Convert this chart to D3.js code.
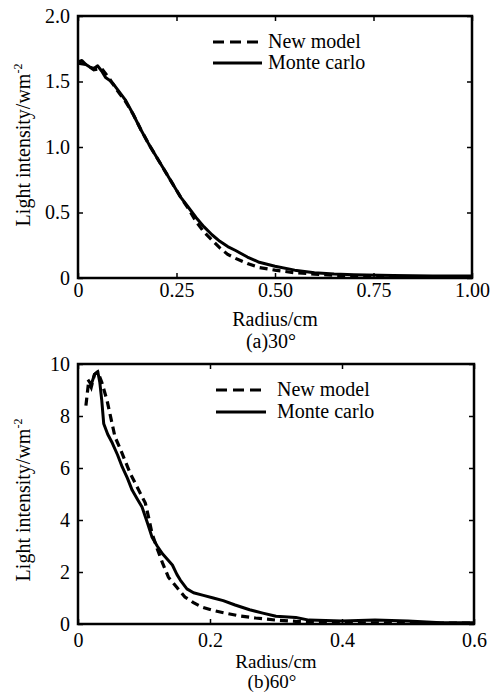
<!DOCTYPE html>
<html>
<head>
<meta charset="utf-8">
<script src="https://cdn.jsdelivr.net/npm/d3@7"></script>
<style>
  body { margin: 0; background: #fff; }
  svg text { fill: #000; }
</style>
</head>
<body>
<script>
// (a) 30 degrees
const mcRadiusA = [0, 0.01, 0.02, 0.03, 0.04, 0.05, 0.06, 0.07, 0.08, 0.09, 0.10, 0.12, 0.14, 0.16, 0.18, 0.20, 0.22, 0.24, 0.26, 0.28, 0.30, 0.32, 0.34, 0.36, 0.38, 0.40, 0.43, 0.46, 0.50, 0.55, 0.60, 0.65, 0.70, 0.80, 0.90, 1.00];
const mcIntensityA = [1.65, 1.66, 1.63, 1.61, 1.60, 1.62, 1.58, 1.53, 1.51, 1.48, 1.44, 1.36, 1.25, 1.13, 1.02, 0.92, 0.82, 0.72, 0.62, 0.54, 0.46, 0.39, 0.33, 0.28, 0.24, 0.21, 0.16, 0.12, 0.09, 0.06, 0.04, 0.03, 0.025, 0.02, 0.015, 0.015];
const nmRadiusA = [0, 0.02, 0.04, 0.06, 0.08, 0.10, 0.12, 0.14, 0.16, 0.18, 0.20, 0.22, 0.24, 0.26, 0.28, 0.30, 0.32, 0.34, 0.36, 0.38, 0.40, 0.43, 0.46, 0.50, 0.55, 0.60, 0.65, 0.70, 0.80, 0.90, 1.00];
const nmIntensityA = [1.64, 1.63, 1.59, 1.60, 1.52, 1.43, 1.35, 1.25, 1.13, 1.02, 0.92, 0.82, 0.72, 0.62, 0.53, 0.43, 0.35, 0.29, 0.23, 0.18, 0.15, 0.11, 0.08, 0.06, 0.04, 0.03, 0.02, 0.015, 0.01, 0.01, 0.01];
const xTicksA = [0, 0.25, 0.5, 0.75, 1.0];
const xTickLabelsA = ["0", "0.25", "0.50", "0.75", "1.00"];
const yTicksA = [0, 0.5, 1.0, 1.5, 2.0];
const yTickLabelsA = ["0", "0.5", "1.0", "1.5", "2.0"];

// (b) 60 degrees
const mcRadiusB = [0.015, 0.02, 0.025, 0.03, 0.033, 0.036, 0.039, 0.045, 0.052, 0.06, 0.067, 0.075, 0.082, 0.09, 0.097, 0.105, 0.112, 0.12, 0.128, 0.135, 0.143, 0.15, 0.155, 0.165, 0.175, 0.19, 0.205, 0.22, 0.238, 0.26, 0.28, 0.30, 0.33, 0.35, 0.40, 0.45, 0.50, 0.55, 0.60];
const mcIntensityB = [9.4, 9.2, 9.6, 9.7, 9.3, 8.6, 7.7, 7.3, 6.96, 6.5, 6.04, 5.6, 5.15, 4.8, 4.5, 3.9, 3.35, 3.0, 2.7, 2.5, 2.27, 1.9, 1.69, 1.35, 1.2, 1.1, 1.0, 0.9, 0.73, 0.55, 0.42, 0.3, 0.25, 0.15, 0.12, 0.15, 0.12, 0.05, 0.05];
const nmRadiusB = [0.012, 0.016, 0.02, 0.025, 0.03, 0.036, 0.044, 0.05, 0.056, 0.063, 0.071, 0.079, 0.087, 0.095, 0.102, 0.107, 0.112, 0.12, 0.128, 0.137, 0.15, 0.162, 0.175, 0.188, 0.205, 0.223, 0.245, 0.269, 0.30, 0.33, 0.36, 0.40, 0.50, 0.60];
const nmIntensityB = [8.4, 9.3, 9.1, 9.6, 9.7, 9.3, 8.6, 7.9, 7.2, 6.8, 6.3, 5.8, 5.4, 5.0, 4.65, 4.1, 3.5, 2.9, 2.35, 1.8, 1.4, 1.04, 0.82, 0.65, 0.52, 0.42, 0.31, 0.23, 0.15, 0.1, 0.07, 0.05, 0.04, 0.03];
const xTicksB = [0, 0.2, 0.4, 0.6];
const xTickLabelsB = ["0", "0.2", "0.4", "0.6"];
const yTicksB = [0, 2, 4, 6, 8, 10];
const yTickLabelsB = ["0", "2", "4", "6", "8", "10"];

const seriesNames = ["New model", "Monte carlo"];
const serif = "'Liberation Serif', 'DejaVu Serif', 'Noto Serif', Tinos, FreeSerif, 'Times New Roman', Times, serif";

const svg = d3.select("body").append("svg")
    .attr("width", 492)
    .attr("height", 693)
    .attr("font-family", serif);

function drawPanel(p) {
    const x = d3.scaleLinear().domain(p.xDomain).range([p.left, p.right]);
    const y = d3.scaleLinear().domain(p.yDomain).range([p.bottom, p.top]);
    const g = svg.append("g");

    // ticks on all four sides, pointing inside
    g.append("g")
        .attr("transform", "translate(0," + p.bottom + ")")
        .call(d3.axisBottom(x).tickValues(p.xTicks).tickSize(-5).tickPadding(p.xPad)
            .tickFormat((d, i) => p.xLabels[i]));
    g.append("g")
        .attr("transform", "translate(" + p.left + ",0)")
        .call(d3.axisLeft(y).tickValues(p.yTicks).tickSize(-5).tickPadding(8)
            .tickFormat((d, i) => p.yLabels[i]));
    g.append("g")
        .attr("transform", "translate(0," + p.top + ")")
        .call(d3.axisTop(x).tickValues(p.xTicks).tickSize(-5).tickFormat(""));
    g.append("g")
        .attr("transform", "translate(" + p.right + ",0)")
        .call(d3.axisRight(y).tickValues(p.yTicks).tickSize(-5).tickFormat(""));

    g.selectAll(".domain").remove();
    g.selectAll("g").attr("font-family", serif).attr("font-size", 20);
    g.selectAll(".tick line").attr("stroke", "#000").attr("stroke-width", 1.5);
    g.selectAll(".tick text").attr("fill", "#000");

    // frame
    g.append("rect")
        .attr("x", p.left).attr("y", p.top)
        .attr("width", p.right - p.left).attr("height", p.bottom - p.top)
        .attr("fill", "none").attr("stroke", "#000").attr("stroke-width", 2.5);

    const line = d3.line()
        .x(d => x(d[0]))
        .y(d => y(d[1]));

    const mc = p.mcRadius.map((r, i) => [r, p.mcIntensity[i]]);
    const nm = p.nmRadius.map((r, i) => [r, p.nmIntensity[i]]);

    g.append("path").datum(mc)
        .attr("d", line)
        .attr("fill", "none").attr("stroke", "#000").attr("stroke-width", 3)
        .attr("stroke-linejoin", "round");
    g.append("path").datum(nm)
        .attr("d", line)
        .attr("fill", "none").attr("stroke", "#000").attr("stroke-width", 3.2)
        .attr("stroke-dasharray", "8,5");

    // legend
    const legend = g.selectAll(".legend")
        .data(seriesNames)
        .enter().append("g")
        .attr("class", "legend")
        .attr("transform", (d, i) => "translate(" + p.legendX + "," + (p.legendY + i * p.legendStep) + ")");
    legend.append("line")
        .attr("x1", 0).attr("x2", p.legendLen)
        .attr("y1", 0).attr("y2", 0)
        .attr("stroke", "#000").attr("stroke-width", 3)
        .attr("stroke-dasharray", (d, i) => i === 0 ? "11,6" : null);
    legend.append("text")
        .attr("x", p.legendLen + p.legendGap)
        .attr("y", 0)
        .attr("dy", "0.32em")
        .attr("font-size", 20)
        .text(d => d);

    // axis titles
    g.append("text")
        .attr("x", (p.left + p.right) / 2)
        .attr("y", p.bottom + p.titleOff)
        .attr("text-anchor", "middle")
        .attr("font-size", p.titleSize)
        .text("Radius/cm");
    g.append("text")
        .attr("x", (p.left + p.right) / 2 - 4)
        .attr("y", p.bottom + p.captionOff)
        .attr("text-anchor", "middle")
        .attr("font-size", p.titleSize)
        .text(p.caption);

    const yt = g.append("text")
        .attr("transform", "translate(30," + p.yTitleY + ") rotate(-90)")
        .attr("text-anchor", "middle")
        .attr("font-size", 20);
    yt.append("tspan").text("Light intensity/wm");
    yt.append("tspan").attr("dy", -8).attr("font-size", 12).text("-2");
}

drawPanel({
    left: 78, right: 472, top: 16, bottom: 278,
    xDomain: [0, 1], yDomain: [0, 2],
    xTicks: xTicksA, xLabels: xTickLabelsA, xPad: 5,
    yTicks: yTicksA, yLabels: yTickLabelsA,
    mcRadius: mcRadiusA, mcIntensity: mcIntensityA,
    nmRadius: nmRadiusA, nmIntensity: nmIntensityA,
    legendX: 213, legendY: 42, legendStep: 21, legendLen: 49, legendGap: 6,
    titleOff: 48, captionOff: 70, titleSize: 20,
    caption: "(a)30°", yTitleY: 145
});

drawPanel({
    left: 78, right: 474, top: 364, bottom: 624,
    xDomain: [0, 0.6], yDomain: [0, 10],
    xTicks: xTicksB, xLabels: xTickLabelsB, xPad: 9,
    yTicks: yTicksB, yLabels: yTickLabelsB,
    mcRadius: mcRadiusB, mcIntensity: mcIntensityB,
    nmRadius: nmRadiusB, nmIntensity: nmIntensityB,
    legendX: 216, legendY: 390, legendStep: 22, legendLen: 50, legendGap: 11,
    titleOff: 44, captionOff: 64, titleSize: 19,
    caption: "(b)60°", yTitleY: 500
});
</script>
</body>
</html>
